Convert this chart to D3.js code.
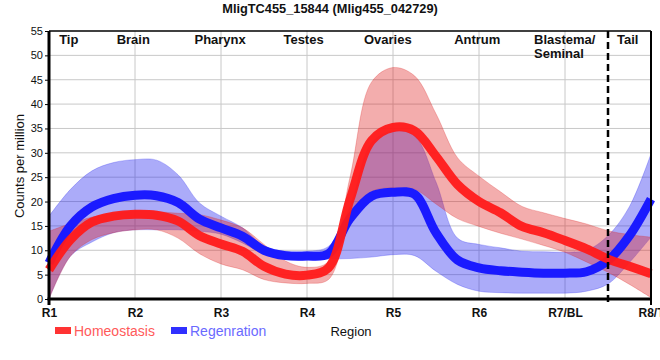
<!DOCTYPE html>
<html>
<head>
<meta charset="utf-8">
<script src="https://cdn.jsdelivr.net/npm/d3@7/dist/d3.min.js"></script>
<style>
  html, body { margin: 0; padding: 0; background: #fff; }
  svg { display: block; font-family: "Liberation Sans", Arial, sans-serif; }
</style>
</head>
<body>
<svg id="chart" width="660" height="360"></svg>
<script>
// ---------- data ----------
const title = "MligTC455_15844 (Mlig455_042729)";
const tickLabels = ["R1", "R2", "R3", "R4", "R5", "R6", "R7/BL", "R8/T"];
const regionNames = ["Tip", "Brain", "Pharynx", "Testes", "Ovaries", "Antrum", "Blastema/|Seminal", "Tail"];
const yTicks = [0, 5, 10, 15, 20, 25, 30, 35, 40, 45, 50, 55];
const seriesNames = ["Homeostasis", "Regenration"];

// sample positions along the region axis (1 = R1 ... 8 = R8/T)
const pos = [1, 1.25, 1.5, 1.75, 2, 2.25, 2.5, 2.75, 3, 3.25, 3.5, 3.75, 4, 4.25, 4.5, 4.75,
             5, 5.25, 5.5, 5.75, 6, 6.25, 6.5, 6.75, 7, 7.25, 7.5, 7.75, 8];

const homeoMean  = [6, 12.2, 15.8, 17, 17.4, 17.2, 16, 13, 11.3, 9.8, 6.7, 5.1, 4.9, 6.4, 20.4, 32.5,
                    35.2, 34.5, 29.3, 23.5, 20, 17.7, 14.9, 13.6, 12, 10.3, 8.2, 6.7, 5.2];
const homeoUpper = [13.9, 15.5, 16.8, 17.5, 18, 17.9, 17.6, 17.3, 16.2, 14.6, 11.2, 7.8, 6.5, 7.7, 25, 44.5,
                    47.5, 45.8, 38, 29, 25.2, 22, 19, 17.7, 16.5, 15.4, 14, 13.2, 12.7];
const homeoLower = [0, 8.8, 12.2, 13.6, 14.2, 14.2, 12.5, 9.3, 7.2, 6, 4, 3.3, 3.2, 4, 16, 22,
                    22.8, 22.5, 19.5, 16.5, 14.9, 13.5, 12.3, 11, 9.6, 7.6, 5.5, 3, 0.3];

const regenMean  = [7.4, 15, 18.9, 20.6, 21.3, 21.2, 19.8, 16.4, 14.6, 12.9, 10, 8.9, 8.8, 9.3, 16.5, 21.1,
                    21.9, 21.5, 13.6, 8, 6.4, 5.8, 5.5, 5.3, 5.3, 5.6, 7.9, 13, 20.5];
const regenUpper = [17, 22.5, 26.3, 28, 28.6, 28.5, 25.5, 19.7, 17, 14.6, 10.8, 9.8, 9.8, 10.8, 19, 32,
                    34.5, 33.5, 24, 12.5, 11.2, 10.5, 9.8, 9.7, 9.6, 10, 13, 19, 29.8];
const regenLower = [0, 8.8, 11.7, 13.6, 14.2, 14.2, 14.2, 13.9, 13.3, 11.5, 9.2, 8.2, 8, 8.2, 8.3, 8.6,
                    9.1, 8.9, 5.7, 3, 1.6, 1.3, 1.2, 1.2, 1.2, 1.6, 3.1, 7.5, 12.7];

// label anchor positions (region units)
const regionLabelPos = [1.23, 1.98, 2.99, 3.96, 4.94, 5.98, 6.64, 7.73];
const dividerPos = 7.5;

// ---------- layout ----------
const svg = d3.select("#chart");
const pLeft = 49, pRight = 651, pTop = 31, pBottom = 299;
const x = d3.scaleLinear().domain([1, 8]).range([pLeft, pRight]);
const y = d3.scaleLinear().domain([0, 55]).range([pBottom, pTop]);

svg.append("defs").append("clipPath").attr("id", "plotClip")
  .append("rect").attr("x", pLeft).attr("y", pTop).attr("width", pRight - pLeft).attr("height", pBottom - pTop);

// grid
const grid = svg.append("g");
grid.selectAll("line.h").data(yTicks.filter(d => d > 0 && d < 55)).enter().append("line")
  .attr("x1", pLeft).attr("x2", pRight).attr("y1", d => y(d)).attr("y2", d => y(d))
  .attr("stroke", "#c8c8c8").attr("stroke-width", 1);
grid.selectAll("line.v").data(d3.range(2, 8)).enter().append("line")
  .attr("x1", d => x(d)).attr("x2", d => x(d)).attr("y1", pTop).attr("y2", pBottom)
  .attr("stroke", "#c8c8c8").attr("stroke-width", 1);

// series
const idx = d3.range(pos.length);
const curve = d3.curveCatmullRom.alpha(0.5);
function band(up, lo) {
  return d3.area().curve(curve).x(i => x(pos[i])).y0(i => y(lo[i])).y1(i => y(up[i]))(idx);
}
function line(v) {
  return d3.line().curve(curve).x(i => x(pos[i])).y(i => y(v[i]))(idx);
}
const plot = svg.append("g");
const bands = plot.append("g").attr("clip-path", "url(#plotClip)");

bands.append("path").attr("d", band(regenUpper, regenLower))
  .attr("fill", "#2222ee").attr("fill-opacity", 0.38)
  .attr("stroke", "#2222ee").attr("stroke-opacity", 0.25).attr("stroke-width", 1);
plot.append("path").attr("d", line(regenMean))
  .attr("fill", "none").attr("stroke", "#1a1aff").attr("stroke-width", 9);
bands.append("path").attr("d", band(homeoUpper, homeoLower))
  .attr("fill", "#dd1c1c").attr("fill-opacity", 0.36)
  .attr("stroke", "#dd1c1c").attr("stroke-opacity", 0.25).attr("stroke-width", 1);
plot.append("path").attr("d", line(homeoMean))
  .attr("fill", "none").attr("stroke", "#ff1a1a").attr("stroke-opacity", 0.95).attr("stroke-width", 9);

// frame
svg.append("line").attr("x1", pLeft).attr("x2", pRight).attr("y1", pTop).attr("y2", pTop)
  .attr("stroke", "#000").attr("stroke-width", 1.5);
svg.append("line").attr("x1", pRight).attr("x2", pRight).attr("y1", pTop).attr("y2", pBottom + 6)
  .attr("stroke", "#000").attr("stroke-width", 2);
svg.append("line").attr("x1", x(dividerPos)).attr("x2", x(dividerPos)).attr("y1", pTop).attr("y2", pBottom + 6)
  .attr("stroke", "#000").attr("stroke-width", 2.5).attr("stroke-dasharray", "7,4");

// y axis
const yAxis = svg.append("g").attr("transform", `translate(${pLeft},0)`)
  .call(d3.axisLeft(y).tickValues(yTicks).tickSize(4).tickPadding(2));
yAxis.select(".domain").remove();
yAxis.selectAll("text").attr("font-size", 11).attr("fill", "#111").attr("font-family", "Liberation Sans, Arial, sans-serif");
yAxis.selectAll("line").attr("stroke", "#000");
svg.append("line").attr("x1", pLeft).attr("x2", pLeft).attr("y1", pTop).attr("y2", pBottom + 6)
  .attr("stroke", "#000").attr("stroke-width", 3);

// x axis
const xAxis = svg.append("g").attr("transform", `translate(0,${pBottom})`)
  .call(d3.axisBottom(x).tickValues(d3.range(1, 9)).tickFormat((d, i) => tickLabels[i]).tickSize(0).tickPadding(9));
xAxis.select(".domain").remove();
xAxis.selectAll("text").attr("font-size", 12).attr("font-weight", "bold").attr("fill", "#111")
  .attr("font-family", "Liberation Sans, Arial, sans-serif");
svg.append("line").attr("x1", pLeft - 1.5).attr("x2", pRight + 1).attr("y1", pBottom).attr("y2", pBottom)
  .attr("stroke", "#000").attr("stroke-width", 3);

// region labels
const rl = svg.append("g").attr("font-size", 13).attr("font-weight", "bold").attr("fill", "#111");
regionNames.forEach((name, i) => {
  const parts = name.split("|");
  const t = rl.append("text").attr("x", x(regionLabelPos[i])).attr("y", 44)
    .attr("text-anchor", parts.length > 1 ? "start" : "middle");
  parts.forEach((p, j) => t.append("tspan").attr("x", x(regionLabelPos[i])).attr("dy", j === 0 ? 0 : 14).text(p));
});

// title
svg.append("text").attr("x", 330).attr("y", 13).attr("text-anchor", "middle")
  .attr("font-size", 12.8).attr("font-weight", "bold").attr("fill", "#111").text(title);

// y title
svg.append("text").attr("transform", "translate(24,166) rotate(-90)").attr("text-anchor", "middle")
  .attr("font-size", 13).attr("fill", "#111").text("Counts per million");

// x title
svg.append("text").attr("x", 351).attr("y", 336).attr("text-anchor", "middle")
  .attr("font-size", 13).attr("fill", "#111").text("Region");

// legend
const legendColors = ["#ff3333", "#3030ff"];
const legendText = ["#ff5a5a", "#6a6aff"];
const legendX = [55, 171];
seriesNames.forEach((s, i) => {
  svg.append("rect").attr("x", legendX[i]).attr("y", 327).attr("width", 16).attr("height", 7)
    .attr("fill", legendColors[i]);
  svg.append("text").attr("x", legendX[i] + 19).attr("y", 336).attr("font-size", 14)
    .attr("fill", legendText[i]).text(s);
});
</script>
</body>
</html>
